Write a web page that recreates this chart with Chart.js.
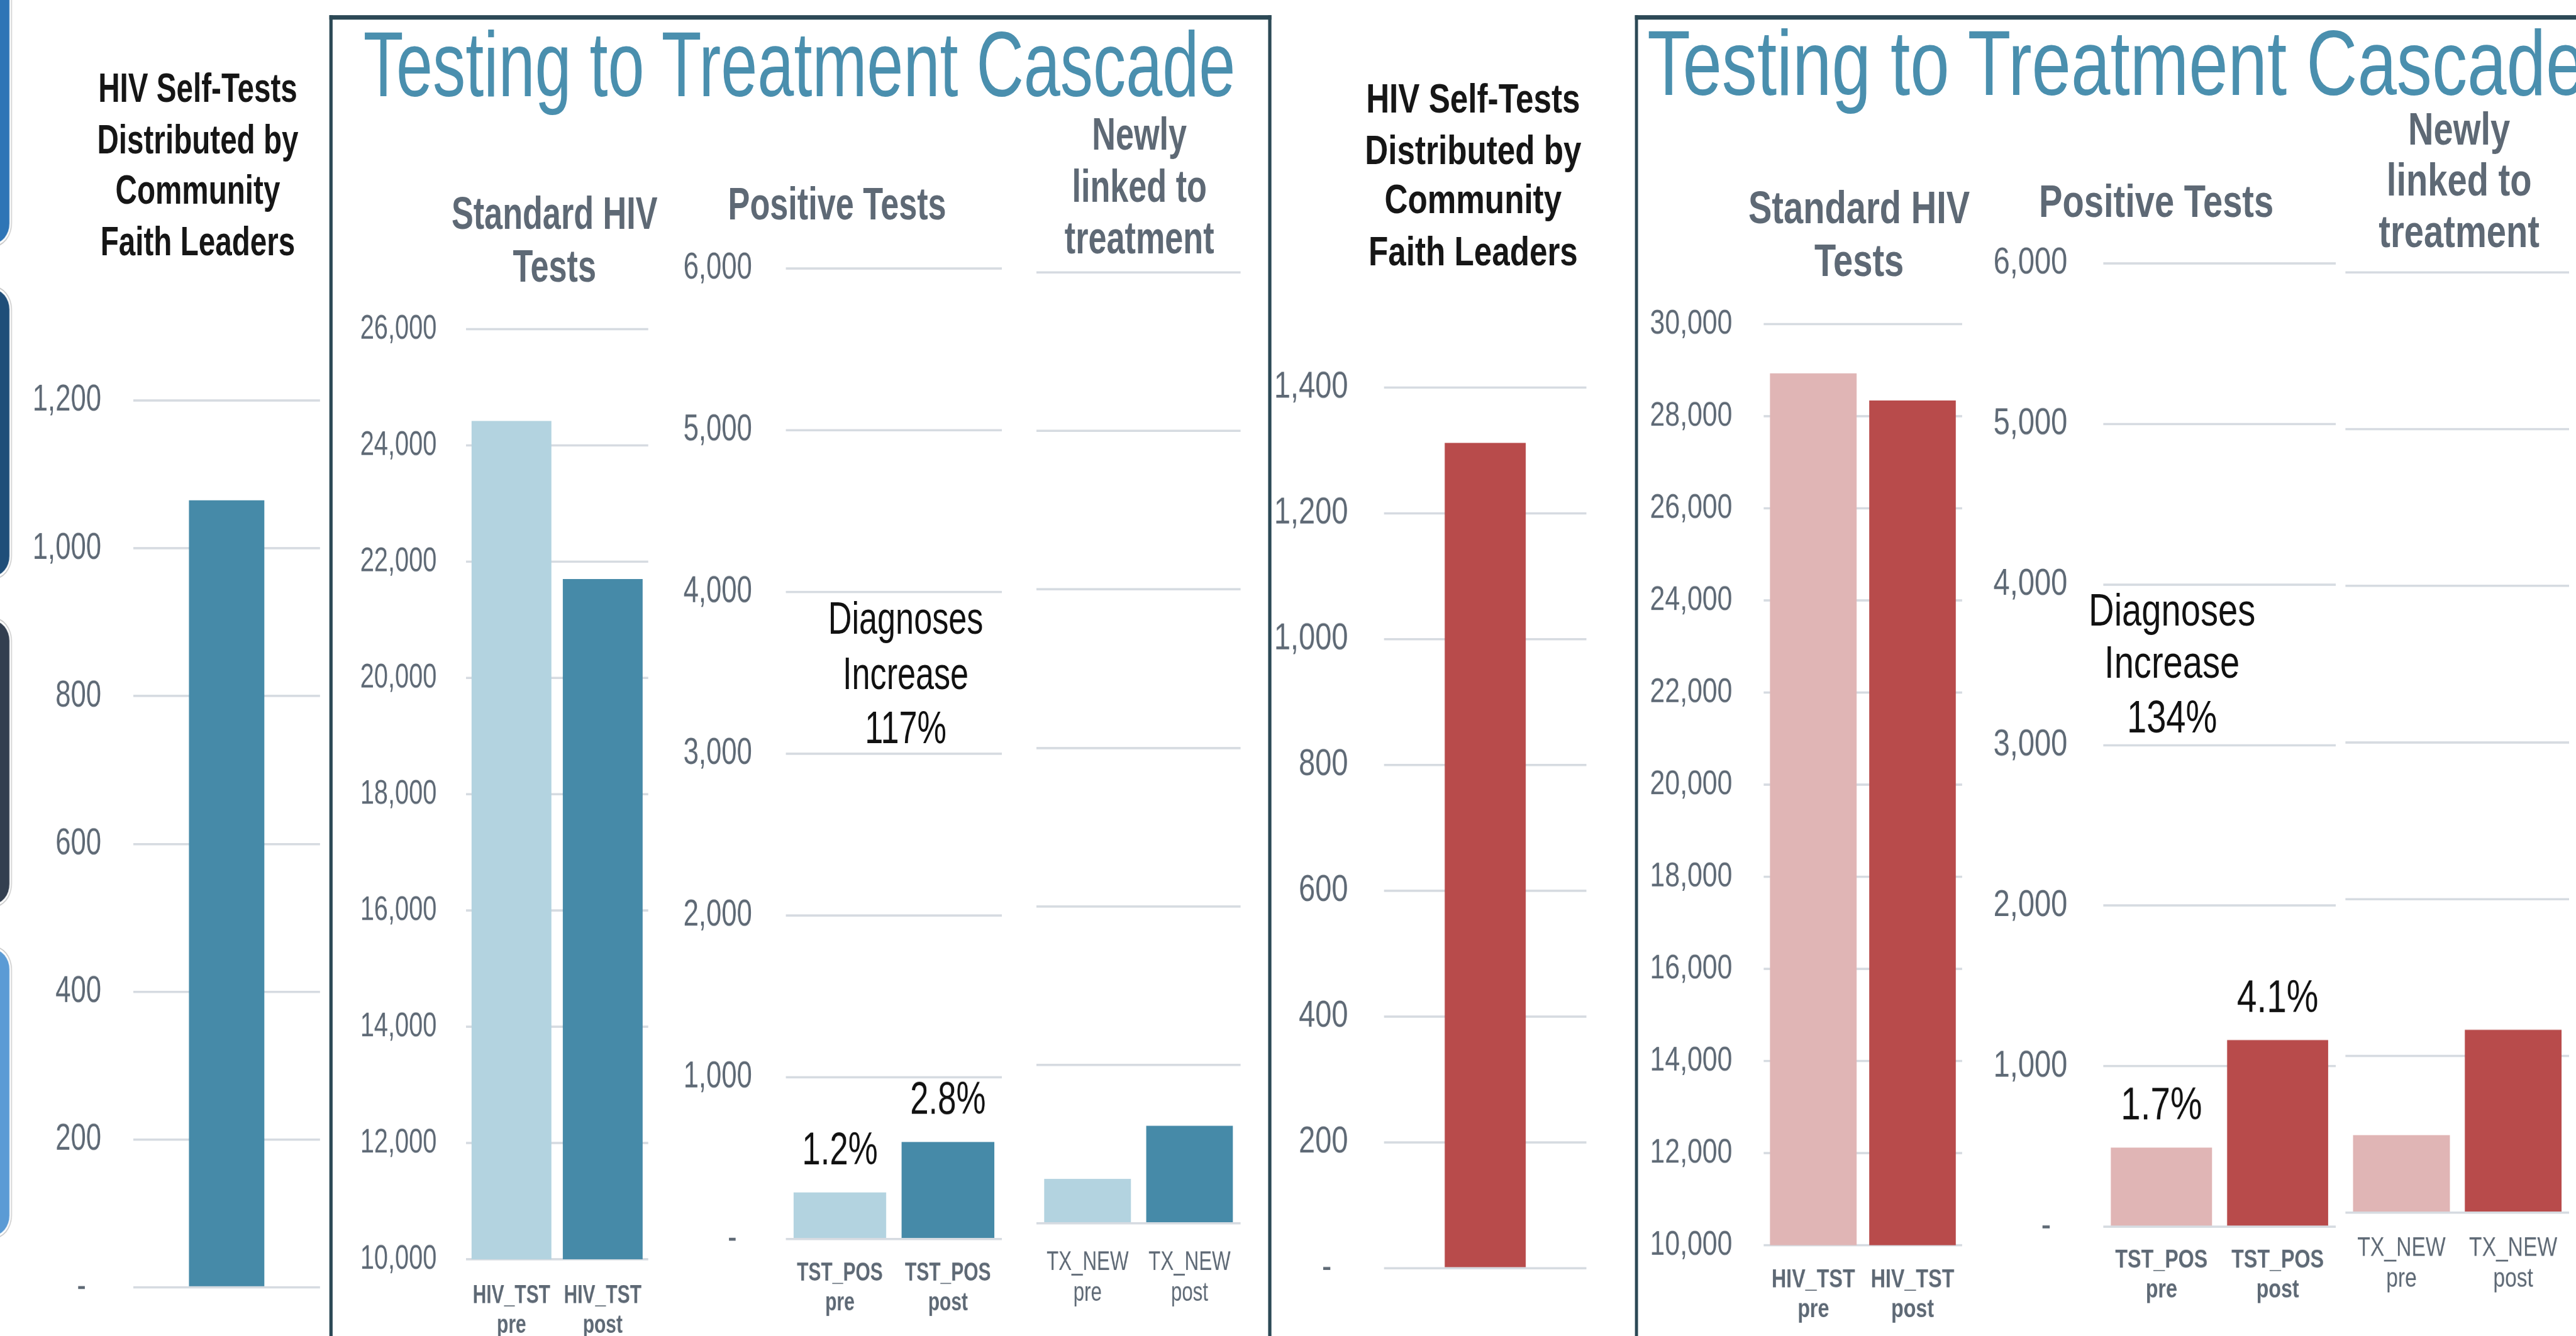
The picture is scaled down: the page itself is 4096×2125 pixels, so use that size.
<!DOCTYPE html>
<html>
<head>
<meta charset="utf-8">
<script src="https://cdn.jsdelivr.net/npm/chart.js@4.4.1/dist/chart.umd.min.js"></script>
<style>
html,body{margin:0;padding:0;width:4096px;height:2125px;overflow:hidden;background:#ffffff;}
.stage{position:absolute;left:0;top:0;transform-origin:0 0;}
.t{position:absolute;white-space:nowrap;}
.cv{position:absolute;}
.tab{position:absolute;}
.box{position:absolute;box-sizing:border-box;border-style:solid;border-color:#2c4956;border-bottom:none;}
</style>
</head>
<body>
<div id="stageL" class="stage"></div>
<div id="stageR" class="stage"></div>
<script>
// ---------------- DATA ----------------
const selfTestCategory = [''];
const selfTestsBlue = [1065];
const selfTestsRed = [1312];

const hivTstLabels = [['HIV_TST', 'pre'], ['HIV_TST', 'post']];
const tstPosLabels = [['TST_POS', 'pre'], ['TST_POS', 'post']];
const txNewLabels = [['TX_NEW', 'pre'], ['TX_NEW', 'post']];

const hivTstBlue = [24420, 21700];
const tstPosBlue = [288, 600];
const txNewBlue = [280, 615];

const hivTstRed = [28930, 28340];
const tstPosRed = [492, 1162];
const txNewRed = [495, 1167];

const positivityBlue = ['1.2%', '2.8%'];
const positivityRed = ['1.7%', '4.1%'];
const diagnosesIncrease = ['117%', '134%'];

const selfTestTitle = ['HIV Self-Tests', 'Distributed by', 'Community', 'Faith Leaders'];
const cascadeTitle = 'Testing to Treatment Cascade';
const hivTstTitle = ['Standard HIV', 'Tests'];
const tstPosTitle = ['Positive Tests'];
const txNewTitle = ['Newly', 'linked to', 'treatment'];
const diagnosesText = ['Diagnoses', 'Increase'];

const selfTestRangeBlue = [0, 1200, 200];
const selfTestRangeRed = [0, 1400, 200];
const hivTstRangeBlue = [10000, 26000, 2000];
const hivTstRangeRed = [10000, 30000, 2000];
const countRange = [0, 6000, 1000];

// ---------------- STYLE ----------------
const K = 4096 / 4585;          // overall scale
const FF = "'Liberation Sans', Arial, Helvetica, sans-serif";
const GRAY = '#5e6975';
const GRID = '#d6dbe1';
const BLUE_L = '#b3d3e0', BLUE_D = '#468aa8';
const RED_L = '#e0b5b5', RED_D = '#b84b4b';

function mkStage(id, s) {
  const el = document.getElementById(id);
  el.style.width = (4585 / s) + 'px';
  el.style.height = '2379px';
  el.style.transform = `scale(${s * K}, ${K})`;
  return { el, s };
}
const L = mkStage('stageL', 0.73);   // left half is squashed horizontally
const R = mkStage('stageR', 0.785);  // right half slightly less

// decorative tabs on the far left
[[-60, 434, '#2e75b6'], [515, 1026, '#1f4e79'], [1105, 1610, '#333f50'], [1690, 2200, '#5b9bd5']].forEach(([a, b, col]) => {
  const d = document.createElement('div');
  d.className = 'tab';
  Object.assign(d.style, {
    left: (-40 / L.s) + 'px', top: a + 'px', width: (57 / L.s) + 'px', height: (b - a) + 'px',
    background: col, borderRadius: `0 ${30 / L.s}px ${30 / L.s}px 0 / 0 36px 36px 0`,
    boxShadow: '0 0 0 4px #ffffff, 0 0 0 6px #c4c4c4'
  });
  L.el.appendChild(d);
});

function box(st, x, y, w) {
  const d = document.createElement('div');
  d.className = 'box';
  Object.assign(d.style, {
    left: (x / st.s) + 'px', top: y + 'px', width: (w / st.s) + 'px', height: '3000px',
    borderTopWidth: '8px', borderLeftWidth: (6 / st.s) + 'px', borderRightWidth: (6 / st.s) + 'px'
  });
  st.el.appendChild(d);
}

function txt(st, str, xRef, baseRef, size, opts = {}) {
  const d = document.createElement('div');
  d.className = 't';
  d.textContent = str;
  d.style.fontFamily = FF;
  d.style.fontSize = size + 'px';
  d.style.fontWeight = opts.weight || 'normal';
  d.style.lineHeight = (1.117 * size) + 'px';
  d.style.color = opts.color || '#111111';
  d.style.top = (baseRef - 0.905 * size) + 'px';
  if (opts.align === 'center') {
    d.style.left = (xRef / st.s - 3000) + 'px';
    d.style.width = '6000px';
    d.style.textAlign = 'center';
  } else {
    d.style.left = (xRef / st.s) + 'px';
  }
  if (opts.sx) { d.style.transform = `scaleX(${opts.sx})`; d.style.transformOrigin = '0 0'; }
  st.el.appendChild(d);
}

// ---------------- CHART FACTORY ----------------
const pctPlugin = {
  id: 'pct',
  afterDatasetsDraw(chart, args, opts) {
    if (!opts || !opts.labels) return;
    const ctx = chart.ctx;
    const meta = chart.getDatasetMeta(0);
    ctx.save();
    ctx.font = `normal ${opts.size}px ${FF}`;
    ctx.fillStyle = '#111111';
    ctx.textAlign = 'center';
    ctx.textBaseline = 'alphabetic';
    meta.data.forEach((bar, i) => {
      ctx.fillText(opts.labels[i], bar.x, bar.y - opts.gap);
    });
    ctx.restore();
  }
};

function makeChart(st, c) {
  const s = st.s;
  const W = c.tickSize ? 300 : 0;
  const T = 180, B = c.xFont ? 230 : 180, Rp = 8;
  const width = Math.round(W + (c.x1 - c.x0) / s + Rp);
  const height = Math.round(T + (c.yZero - c.yTop) + B);
  const div = document.createElement('div');
  div.className = 'cv';
  Object.assign(div.style, {
    left: (c.x0 / s - W) + 'px', top: (c.yTop - T) + 'px',
    width: width + 'px', height: height + 'px'
  });
  const cv = document.createElement('canvas');
  cv.width = width; cv.height = height;
  div.appendChild(cv);
  st.el.appendChild(div);
  new Chart(cv, {
    type: 'bar',
    data: {
      labels: c.labels,
      datasets: [{
        data: c.values, backgroundColor: c.colors, borderWidth: 0,
        barPercentage: c.barPct, categoryPercentage: 1
      }]
    },
    options: {
      responsive: false, maintainAspectRatio: false, animation: false, devicePixelRatio: 1, events: [],
      layout: { padding: { top: T, right: Rp, left: 0, bottom: 0 } },
      plugins: {
        legend: { display: false }, tooltip: { enabled: false }, title: { display: false },
        pct: c.pct ? { labels: c.pct, size: 81, gap: 50 } : {}
      },
      scales: {
        x: {
          grid: { display: false }, border: { display: false },
          ticks: {
            display: !!c.xFont, color: GRAY, autoSkip: false, maxRotation: 0, minRotation: 0,
            padding: c.xFont ? c.xPad : 0,
            font: c.xFont ? { family: FF, size: c.xFont.size, weight: c.xFont.weight, lineHeight: 1.15 } : undefined
          },
          afterFit: sc => { sc.height = B; }
        },
        y: {
          min: c.range[0], max: c.range[1],
          grid: { color: GRID, lineWidth: 4, drawTicks: false },
          border: { display: false },
          ticks: {
            display: !!c.tickSize, stepSize: c.range[2], color: GRAY,
            padding: c.tickSize ? c.tickPad / s : 0,
            font: { family: FF, size: c.tickSize || 10 },
            callback: v => v === 0 ? '-  ' : v.toLocaleString('en-US')
          },
          afterFit: sc => { sc.width = W; }
        }
      }
    },
    plugins: [pctPlugin]
  });
}

// ---------------- LEFT GROUP (blue) ----------------
box(L, 586, 27, 1677);
selfTestTitle.forEach((l, i) => txt(L, l, 352, [181, 273, 363, 454][i], 73, { weight: 'bold', align: 'center', color: '#161616' }));
makeChart(L, { x0: 237, x1: 569, yTop: 713, yZero: 2292, labels: selfTestCategory, values: selfTestsBlue,
  colors: [BLUE_D], barPct: 0.404, range: selfTestRangeBlue, tickSize: 67, tickPad: 57 });

txt(L, cascadeTitle, 647, 171, 165, { color: '#4a8fae', sx: 0.97 });
hivTstTitle.forEach((l, i) => txt(L, l, 987, [407, 502][i], 80, { weight: 'bold', align: 'center', color: GRAY }));
tstPosTitle.forEach((l) => txt(L, l, 1490, 391, 80, { weight: 'bold', align: 'center', color: GRAY }));
txNewTitle.forEach((l, i) => txt(L, l, 2028, [266, 359, 451][i], 80, { weight: 'bold', align: 'center', color: GRAY }));

makeChart(L, { x0: 829, x1: 1160, yTop: 586, yZero: 2242, labels: hivTstLabels, values: hivTstBlue,
  colors: [BLUE_L, BLUE_D], barPct: 0.876, range: hivTstRangeBlue, tickSize: 61, tickPad: 52,
  xFont: { size: 46, weight: 'bold' }, xPad: 31 });
makeChart(L, { x0: 1399, x1: 1784, yTop: 478, yZero: 2206, labels: tstPosLabels, values: tstPosBlue,
  colors: [BLUE_L, BLUE_D], barPct: 0.857, range: countRange, tickSize: 67, tickPad: 60,
  xFont: { size: 46, weight: 'bold' }, xPad: 27, pct: positivityBlue });
makeChart(L, { x0: 1838, x1: 2209, yTop: 485, yZero: 2178, labels: txNewLabels, values: txNewBlue,
  colors: [BLUE_L, BLUE_D], barPct: 0.85, range: countRange, tickSize: 0,
  xFont: { size: 48, weight: 'normal' }, xPad: 34 });
[...diagnosesText, diagnosesIncrease[0]].forEach((l, i) => txt(L, l, 1612, [1128, 1227, 1323][i], 80, { align: 'center' }));

// ---------------- RIGHT GROUP (red) ----------------
box(R, 2910, 27, 2200);
selfTestTitle.forEach((l, i) => txt(R, l, 2622, [200, 292, 380, 472][i], 73, { weight: 'bold', align: 'center', color: '#161616' }));
makeChart(R, { x0: 2463, x1: 2823, yTop: 690, yZero: 2258, labels: selfTestCategory, values: selfTestsRed,
  colors: [RED_D], barPct: 0.4, range: selfTestRangeRed, tickSize: 67, tickPad: 64 });

txt(R, cascadeTitle, 2932, 169, 165, { color: '#4a8fae', sx: 0.97 });
hivTstTitle.forEach((l, i) => txt(R, l, 3309, [397, 491][i], 80, { weight: 'bold', align: 'center', color: GRAY }));
tstPosTitle.forEach((l) => txt(R, l, 3838, 386, 80, { weight: 'bold', align: 'center', color: GRAY }));
txNewTitle.forEach((l, i) => txt(R, l, 4377, [257, 348, 440][i], 80, { weight: 'bold', align: 'center', color: GRAY }));

makeChart(R, { x0: 3139, x1: 3495, yTop: 577, yZero: 2217, labels: hivTstLabels, values: hivTstRed,
  colors: [RED_L, RED_D], barPct: 0.873, range: hivTstRangeRed, tickSize: 61, tickPad: 56,
  xFont: { size: 46, weight: 'bold' }, xPad: 28 });
makeChart(R, { x0: 3744, x1: 4158, yTop: 469, yZero: 2184, labels: tstPosLabels, values: tstPosRed,
  colors: [RED_L, RED_D], barPct: 0.87, range: countRange, tickSize: 67, tickPad: 64,
  xFont: { size: 46, weight: 'bold' }, xPad: 26, pct: positivityRed });
makeChart(R, { x0: 4174, x1: 4573, yTop: 485, yZero: 2159, labels: txNewLabels, values: txNewRed,
  colors: [RED_L, RED_D], barPct: 0.866, range: countRange, tickSize: 0,
  xFont: { size: 48, weight: 'normal' }, xPad: 28 });
[...diagnosesText, diagnosesIncrease[1]].forEach((l, i) => txt(R, l, 3866, [1114, 1207, 1304][i], 80, { align: 'center' }));
</script>
</body>
</html>
